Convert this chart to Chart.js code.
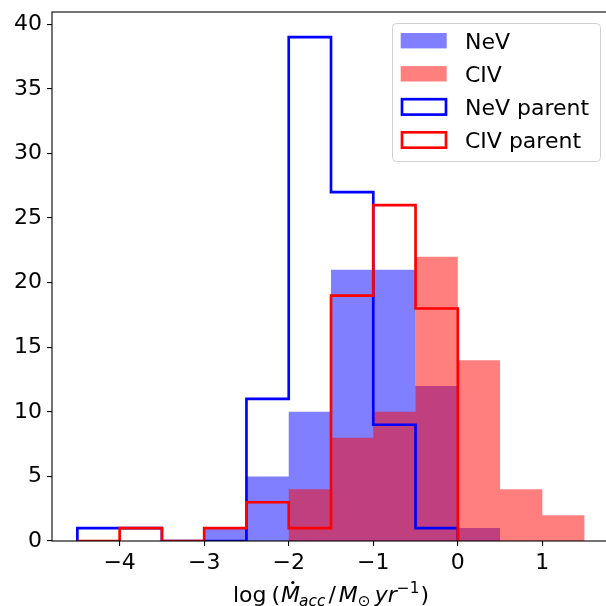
<!DOCTYPE html>
<html><head><meta charset="utf-8">
<script src="https://cdn.jsdelivr.net/npm/chart.js@4"></script>
<style>html,body{margin:0;padding:0;background:#fff;overflow:hidden}#wrap{width:620px;height:606px;position:relative}</style>
</head><body><div id="wrap"><canvas id="c"></canvas></div>
<script>
const binEdges = [-4.5,-4,-3.5,-3,-2.5,-2,-1.5,-1,-0.5,0,0.5,1,1.5];
const nevCounts = [0,0,0,1,5,10,21,21,12,1,0,0];
const civCounts = [0,0,0,0,0,4,8,10,22,14,4,2];
const parentEdges = [-4.5,-4,-3.5,-3,-2.5,-2,-1.5,-1,-0.5,0];
const nevParentCounts = [1,1,0,0,11,39,27,9,1];
const civParentCounts = [0,1,0,1,3,1,19,26,18];
const xTickValues = [-4,-3,-2,-1,0,1];
const yTickValues = [0,5,10,15,20,25,30,35,40];
const seriesNames = ['NeV','CIV','NeV parent','CIV parent'];

const FAM = "'DejaVu Sans'";
const FS = 22;

function stepPoints(edges, counts){
  const pts = [{x: edges[0], y: 0}];
  counts.forEach((c,i)=>{ pts.push({x: edges[i], y: c}); pts.push({x: edges[i+1], y: c}); });
  pts.push({x: edges[edges.length-1], y: 0});
  return pts;
}
const fmt = v => v < 0 ? '\u2212' + Math.abs(v) : String(v);

const decor = {
  id: 'decor',
  afterDatasetsDraw(chart){
    const {ctx, chartArea: a} = chart;
    ctx.save();
    ctx.strokeStyle = '#000'; ctx.lineWidth = 1.1;
    ctx.strokeRect(a.left, a.top, a.right - a.left, a.bottom - a.top);
    ctx.restore();
  },
  afterDraw(chart){
    const ctx = chart.ctx;
    ctx.save();
    ctx.beginPath();
    ctx.roundRect(392.5, 23.5, 208, 138, 4);
    ctx.fillStyle = 'rgba(255,255,255,0.8)'; ctx.fill();
    ctx.strokeStyle = '#d0d0d0'; ctx.lineWidth = 1; ctx.stroke();
    const styles = [
      {fill: 'rgba(0,0,255,0.5)'},
      {fill: 'rgba(255,0,0,0.5)'},
      {stroke: '#0000ff'},
      {stroke: '#ff0000'}
    ];
    seriesNames.forEach((name, i)=>{
      const cy = 40.7 + i * 33.1;
      const st = styles[i];
      if (st.fill){
        ctx.fillStyle = st.fill;
        ctx.fillRect(400.7, cy - 7.7, 46, 15.4);
      } else {
        ctx.strokeStyle = st.stroke; ctx.lineWidth = 2.67;
        ctx.strokeRect(402, cy - 7.7, 44, 15.4);
      }
      ctx.fillStyle = '#000';
      ctx.font = `${FS}px ${FAM}`;
      ctx.textBaseline = 'alphabetic'; ctx.textAlign = 'left';
      ctx.fillText(name, 465, cy + 8);
    });
    const sfs = FS * 0.7;
    const pieces = [
      {t:'log', f:`${FS}px ${FAM}`, dy:0, gap:0},
      {t:'(', f:`${FS}px ${FAM}`, dy:0, gap:5},
      {t:'M', f:`italic ${FS}px ${FAM}`, dy:0, gap:1, dot:true},
      {t:'acc', f:`italic ${sfs}px ${FAM}`, dy:4, gap:-1},
      {t:'/', f:`${FS}px ${FAM}`, dy:0, gap:3},
      {t:'M', f:`italic ${FS}px ${FAM}`, dy:0, gap:3},
      {t:'\u2299', f:`${sfs}px ${FAM}`, dy:4, gap:0},
      {t:'yr', f:`italic ${FS}px ${FAM}`, dy:0, gap:4},
      {t:'\u22121', f:`${sfs}px ${FAM}`, dy:-9, gap:0},
      {t:')', f:`${FS}px ${FAM}`, dy:0, gap:1}
    ];
    let total = 0;
    pieces.forEach(p=>{ ctx.font = p.f; p.w = ctx.measureText(p.t).width; total += p.gap + p.w; });
    let x = 331 - total / 2;
    const base = 602;
    ctx.fillStyle = '#000'; ctx.textBaseline = 'alphabetic'; ctx.textAlign = 'left';
    pieces.forEach(p=>{
      x += p.gap;
      ctx.font = p.f;
      ctx.fillText(p.t, x, base + p.dy);
      if (p.dot){
        ctx.beginPath();
        ctx.arc(x + p.w * 0.62, base - 19.5, 1.6, 0, Math.PI * 2);
        ctx.fill();
      }
      x += p.w;
    });
    ctx.restore();
  }
};

new Chart(document.getElementById('c'), {
  type: 'line',
  data: {
    datasets: [
      {label: seriesNames[0], data: stepPoints(binEdges, nevCounts), fill: 'origin',
       backgroundColor: 'rgba(0,0,255,0.5)', borderWidth: 0, borderColor: 'rgba(0,0,0,0)', pointRadius: 0, order: 4, tension: 0},
      {label: seriesNames[1], data: stepPoints(binEdges, civCounts), fill: 'origin',
       backgroundColor: 'rgba(255,0,0,0.5)', borderWidth: 0, borderColor: 'rgba(0,0,0,0)', pointRadius: 0, order: 3, tension: 0},
      {label: seriesNames[2], data: stepPoints(parentEdges, nevParentCounts), fill: false,
       borderColor: '#0000ff', borderWidth: 2.67, pointRadius: 0, order: 2, tension: 0, borderJoinStyle: 'miter'},
      {label: seriesNames[3], data: stepPoints(parentEdges, civParentCounts), fill: false,
       borderColor: '#ff0000', borderWidth: 2.67, pointRadius: 0, order: 1, tension: 0, borderJoinStyle: 'miter'}
    ]
  },
  options: {
    responsive: true, maintainAspectRatio: false, animation: false,
    layout: {padding: {top: 12, right: 10, left: 0, bottom: 0}},
    plugins: {legend: {display: false}, tooltip: {enabled: false}, filler: {propagate: false}},
    scales: {
      x: {
        type: 'linear', min: -4.8, max: 1.8,
        afterBuildTicks: s => { s.ticks = xTickValues.map(v => ({value: v})); },
        afterFit: s => { s.height = 65; s.paddingLeft = 0; s.paddingRight = 0; },
        grid: {display: true, drawOnChartArea: false, drawTicks: true, tickLength: 5, color: '#000', lineWidth: 1.1},
        border: {display: false},
        ticks: {color: '#000', font: {family: FAM, size: FS}, padding: 4, maxRotation: 0, autoSkip: false, callback: v => fmt(v)}
      },
      y: {
        type: 'linear', min: 0, max: 40.95,
        afterBuildTicks: s => { s.ticks = yTickValues.map(v => ({value: v})); },
        afterFit: s => { s.width = 52; s.paddingTop = 0; s.paddingBottom = 0; },
        grid: {display: true, drawOnChartArea: false, drawTicks: true, tickLength: 5, color: '#000', lineWidth: 1.1},
        border: {display: false},
        ticks: {color: '#000', font: {family: FAM, size: FS}, padding: 5, autoSkip: false, callback: v => fmt(v)}
      }
    }
  },
  plugins: [decor]
});
</script></body></html>
